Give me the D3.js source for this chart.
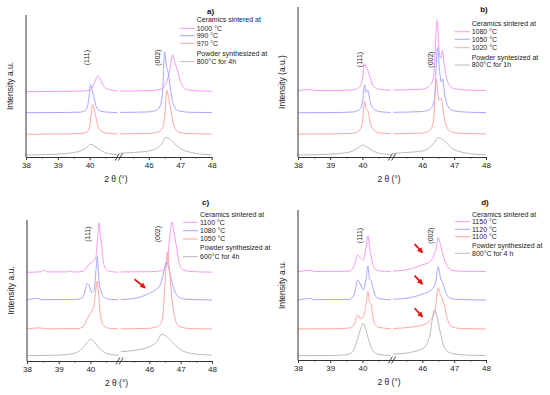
<!DOCTYPE html>
<html>
<head>
<meta charset="utf-8">
<script src="https://cdn.jsdelivr.net/npm/d3@7"></script>
<style>
	body { margin: 0; background: #fff; }
	svg { font-family: 'Liberation Sans', Arial, sans-serif; }
</style>
</head>
<body>
<svg id="chart" width="550" height="395"></svg>
<script>
// broken x axis: two segments
var X_LEFT = [38, 40.92];
var X_RIGHT = [45.05, 48];
var TICKS_LEFT = [38, 39, 40];
var TICKS_RIGHT = [46, 47, 48];
var MINOR_LEFT = [38.5, 39.5, 40.5];
var MINOR_RIGHT = [45.5, 46.5, 47.5];
var COLORS = ['#f290f2', '#9c9cff', '#ff9c9c', '#b2b2b2'];
var HKL_LABELS = ['(111)', '(002)'];
var HKL_X = [39.9, 46.27];

// a) [2theta, intensity]
var A_1000 = [[38,46],[39,46.2],[39.8,46.4],[40.0,47.2],[40.12,50.5],[40.2,55],[40.26,57],[40.33,55],[40.43,50.5],[40.6,47.5],[40.88,46.5],
	[45.09,46.4],[46,46.7],[46.35,47.5],[46.5,50],[46.6,55],[46.68,63],[46.76,72],[46.82,67],[46.9,62],[46.97,56],[47.07,50],[47.25,47.2],[47.6,46.5],[48,46.3]];
var A_990 = [[38,31.2],[39,31.3],[39.7,31.6],[39.88,33],[39.97,40],[40.03,51],[40.08,47],[40.13,43],[40.2,36],[40.32,32.5],[40.6,31.5],[40.88,31.3],
	[45.09,31.4],[46,31.8],[46.25,33],[46.38,37],[46.45,50],[46.5,74],[46.56,64],[46.63,58],[46.7,46],[46.8,36],[46.95,32.5],[47.3,31.5],[48,31.3]];
var A_970 = [[38,16],[39,16.2],[39.7,16.5],[39.9,17.5],[40.0,21],[40.05,30],[40.09,37],[40.14,34],[40.2,28],[40.27,21],[40.4,17.8],[40.6,16.6],[40.88,16.3],
	[45.09,16.3],[46,16.6],[46.3,17.5],[46.45,21],[46.52,32],[46.57,47],[46.63,42],[46.72,30],[46.82,21],[46.95,17.5],[47.2,16.5],[48,16.2]];
var A_POWDER = [[38,1.4],[38.5,1.6],[39,2],[39.4,2.8],[39.7,4.2],[39.9,6.5],[40.03,8.9],[40.2,7],[40.4,4],[40.6,2.4],[40.88,1.8],
	[45.09,2.6],[45.5,3.2],[46,4.2],[46.25,6],[46.42,9.5],[46.53,13.8],[46.65,13],[46.8,10],[46.97,6.5],[47.2,4],[47.5,2.5],[47.8,1.8],[48,1.5]];

// b)
var B_1080 = [[38,44.2],[38.3,44.9],[38.6,44.4],[39,44.3],[39.7,44.7],[39.9,46.5],[40.0,52],[40.07,62.4],[40.12,60],[40.17,58],[40.25,52],[40.35,47],[40.55,45],[40.88,44.5],
	[45.09,44.6],[46,45.2],[46.2,47],[46.35,53],[46.47,91],[46.53,70],[46.58,66],[46.63,71],[46.7,60],[46.8,50],[46.95,46],[47.3,44.7],[48,44.4]];
var B_1050 = [[38,29.5],[39,29.6],[39.7,30],[39.9,31.5],[40.0,36],[40.07,48],[40.12,43],[40.17,44.5],[40.23,38],[40.35,32],[40.55,30.2],[40.88,29.7],
	[45.09,29.8],[46,30.3],[46.25,32],[46.38,38],[46.48,73],[46.55,56],[46.6,50],[46.64,52],[46.7,42],[46.8,34],[46.95,31],[47.3,30],[48,29.6]];
var B_1020 = [[38,15.3],[39,15.4],[39.7,15.8],[39.9,17.5],[40.0,23],[40.07,37],[40.12,32],[40.17,31],[40.23,24],[40.35,18],[40.55,16],[40.88,15.5],
	[45.09,15.5],[46,16],[46.25,18],[46.35,24],[46.44,52],[46.52,38],[46.6,39],[46.66,30],[46.75,21],[46.9,17],[47.2,15.8],[48,15.4]];
var B_POWDER = [[38,1.3],[38.5,1.5],[39,1.9],[39.4,2.6],[39.7,4],[39.88,6.2],[40.0,8],[40.15,6.5],[40.35,3.8],[40.6,2.2],[40.88,1.7],
	[45.09,2.4],[45.5,3],[46,4],[46.2,5.8],[46.38,9.5],[46.5,12.9],[46.62,12],[46.78,9],[46.95,5.5],[47.2,3.4],[47.5,2.2],[48,1.5]];

// c)
var C_1100 = [[38,62.9],[38.45,63.3],[38.55,64.5],[38.65,63.2],[39.25,63.2],[39.35,64],[39.45,63.1],[39.75,63.5],[39.88,66],[39.97,69],[40.08,70.5],[40.17,73],[40.24,90],[40.28,98],[40.32,88],[40.36,82],[40.4,72],[40.48,65.5],[40.6,63.5],[40.88,63],
	[45.09,63.2],[46,63.3],[46.4,64],[46.52,67],[46.6,75],[46.66,90],[46.72,98.5],[46.78,92],[46.86,82],[46.95,70],[47.05,65],[47.3,63.5],[48,63]];
var C_1080 = [[38,43.3],[38.35,44.5],[38.45,43.5],[39.5,43.6],[39.75,45],[39.85,51],[39.9,55],[39.97,53],[40.05,48.5],[40.12,50],[40.18,65],[40.22,74],[40.27,58],[40.33,50],[40.45,45],[40.6,43.8],[40.88,43.4],
	[45.09,43.6],[45.5,44.3],[45.8,46],[46.0,48],[46.2,50.5],[46.35,54],[46.45,62],[46.55,70.5],[46.62,66],[46.7,58],[46.8,50],[46.9,46],[47.1,44],[47.5,43.5],[48,43.3]];
var C_1050 = [[38,22.7],[38.4,23.5],[38.6,22.8],[39.6,23],[39.78,24.5],[39.9,30],[40.0,33.8],[40.1,38],[40.17,50],[40.22,56.7],[40.27,45],[40.32,32],[40.42,25],[40.6,23.2],[40.88,22.8],
	[45.09,22.8],[46,23.2],[46.3,25],[46.42,30],[46.5,55],[46.58,77.5],[46.64,65],[46.72,45],[46.82,30],[46.95,24.5],[47.3,23],[48,22.7]];
var C_POWDER = [[38,3.8],[39,4.2],[39.5,5.5],[39.75,9],[39.9,13],[40.0,15.4],[40.1,14],[40.25,10],[40.45,6],[40.7,4.5],[40.88,4.2],
	[45.09,6.6],[45.5,7.5],[46.0,10],[46.25,14],[46.4,18.9],[46.55,17.5],[46.75,13],[47.0,8],[47.3,5.5],[47.7,4.5],[48,4.2]];

// d)
var D_1150 = [[38,58.9],[38.4,59.8],[38.5,59],[39.6,59.2],[39.75,63],[39.85,70],[39.95,68],[40.03,66.7],[40.12,76],[40.17,82.7],[40.23,74],[40.3,66],[40.4,60.5],[40.6,59.2],[40.88,59],
	[45.09,59.3],[45.6,60.5],[46.0,63.5],[46.2,65],[46.35,69],[46.43,74],[46.5,81.6],[46.57,77],[46.65,70],[46.75,64],[46.9,60],[47.2,59.2],[48,59]];
var D_1120 = [[38,40],[38.4,41],[38.5,40.2],[39.6,40.4],[39.75,44],[39.85,53.3],[39.95,50],[40.03,46.7],[40.12,55],[40.17,62.7],[40.22,54],[40.28,52.5],[40.33,48],[40.45,41.5],[40.7,40.4],[40.88,40.2],
	[45.09,40.5],[45.6,41.5],[46.0,44],[46.3,47],[46.42,52],[46.5,62.2],[46.58,54],[46.63,52],[46.72,46],[46.85,41.5],[47.1,40.4],[48,40]];
var D_1100 = [[38,20.7],[39,20.8],[39.6,21.3],[39.75,24],[39.85,30],[39.95,27.5],[40.05,30],[40.12,38],[40.17,45.6],[40.22,39],[40.27,37],[40.35,26],[40.5,21.8],[40.88,20.9],
	[45.09,21],[45.6,21.8],[46.0,23.3],[46.25,26.5],[46.4,33],[46.5,47.8],[46.58,43],[46.67,38],[46.78,28],[46.9,22.5],[47.2,21],[48,20.7]];
var D_POWDER = [[38,2.9],[39,3],[39.5,3.5],[39.7,5.5],[39.82,12],[39.92,19],[40.02,24.4],[40.1,21],[40.2,13],[40.32,6.5],[40.5,3.8],[40.88,3],
	[45.09,3.8],[45.6,5],[46.0,7.5],[46.15,11],[46.25,18],[46.32,28],[46.37,33.3],[46.45,30],[46.55,20],[46.65,11],[46.78,6],[47.0,4],[47.5,3.2],[48,3]];

var LEGEND_A = ['1000 °C', '990 °C', '970 °C'];
var LEGEND_B = ['1080 °C', '1050 °C', '1020 °C'];
var LEGEND_C = ['1100 °C', '1080 °C', '1050 °C'];
var LEGEND_D = ['1150 °C', '1120 °C', '1100 °C'];
var POWDER_A = ['Powder synthesized at', '800°C for 4h'];
var POWDER_B = ['Powder syntesized at', '800°C for 1h'];
var POWDER_C = ['Powder synthesized at', '600°C for 4h'];
var POWDER_D = ['Powder synthesized at', '800°C for 4 h'];

// arrows [x0, y0, x1, y1] in data units
var ARROWS_C = [[45.53, 58, 45.86, 52]];
var ARROWS_D = [[45.76, 77.3, 46.0, 71.8], [45.76, 56.2, 46.0, 50.7], [45.76, 34.5, 46.0, 28.9]];

CHART = {
	panels: [
		{ tag: 'a)', left: 26, right: 211.7, top: 15, bottom: 157, series: [A_1000, A_990, A_970, A_POWDER],
			legend: LEGEND_A, powder: POWDER_A, ylabel: 'Intensity a.u.', hklY: 70, arrows: [],
			legX: 196.7, legY: [20, 28.3, 35.7, 43.3, 53.3, 61.7], tagX: 210.5, tagY: 11 },
		{ tag: 'b)', left: 298, right: 486, top: 7, bottom: 157, series: [B_1080, B_1050, B_1020, B_POWDER],
			legend: LEGEND_B, powder: POWDER_B, ylabel: 'Intensity (a.u.)', hklY: 65, arrows: [],
			legX: 471.7, legY: [23.3, 31.7, 39.3, 47.7, 57.3, 65], tagX: 484, tagY: 9.3 },
		{ tag: 'c)', left: 27, right: 212, top: 220, bottom: 361, series: [C_1100, C_1080, C_1050, C_POWDER],
			legend: LEGEND_C, powder: POWDER_C, ylabel: 'Intensity a.u.', hklY: 90, arrows: ARROWS_C,
			legX: 200, legY: [214.3, 222.3, 230.7, 239, 247.7, 256.7], tagX: 205.5, tagY: 202.3 },
		{ tag: 'd)', left: 298, right: 486, top: 210, bottom: 360, series: [D_1150, D_1120, D_1100, D_POWDER],
			legend: LEGEND_D, powder: POWDER_D, ylabel: 'Intensity a.u.', hklY: 83, arrows: ARROWS_D,
			legX: 472, legY: [214.3, 221.7, 229.3, 236.7, 245.7, 253.3], tagX: 485, tagY: 201.7 }
	],

	init: function() {
		var svg = d3.select('#chart');
		var defs = svg.append('defs');
		defs.append('marker')
			.attr('id', 'head')
			.attr('viewBox', '0 0 10 10')
			.attr('refX', 8)
			.attr('refY', 5)
			.attr('markerWidth', 3.2)
			.attr('markerHeight', 3.2)
			.attr('orient', 'auto')
			.append('path')
			.attr('d', 'M0,0 L10,5 L0,10 z')
			.attr('fill', '#ee1111');

		CHART.panels.forEach(function(p) {
			CHART.drawPanel(svg, p);
		});
	},

	drawPanel: function(svg, p) {
		var mid = (p.left + p.right) / 2;
		var xl = d3.scaleLinear().domain(X_LEFT).range([p.left, mid]);
		var xr = d3.scaleLinear().domain(X_RIGHT).range([mid, p.right]);
		var y = d3.scaleLinear().domain([0, 100]).range([p.bottom, p.top]);
		var x = function(v) {
			return v < 43 ? xl(v) : xr(v);
		};

		var g = svg.append('g');

		// curves, split at the axis break
		var line = d3.line()
			.x(function(d) { return x(d[0]); })
			.y(function(d) { return y(d[1]); })
			.curve(d3.curveMonotoneX);

		p.series.forEach(function(s, i) {
			var parts = [
				s.filter(function(d) { return d[0] < 43; }),
				s.filter(function(d) { return d[0] > 43; })
			];
			g.selectAll(null)
				.data(parts)
				.enter()
				.append('path')
				.attr('d', line)
				.attr('fill', 'none')
				.attr('stroke', COLORS[i])
				.attr('stroke-width', 0.9);
		});

		// axes
		var axisFont = function(sel) {
			sel.selectAll('text')
				.attr('font-size', '8px')
				.attr('font-family', "'Liberation Sans', Arial, sans-serif")
				.attr('fill', '#222');
			sel.selectAll('path, line').attr('stroke', '#333');
		};
		[[xl, TICKS_LEFT, MINOR_LEFT], [xr, TICKS_RIGHT, MINOR_RIGHT]].forEach(function(a) {
			g.append('g')
				.attr('transform', 'translate(0,' + p.bottom + ')')
				.call(d3.axisBottom(a[0]).tickValues(a[1]).tickFormat(d3.format('d')).tickSize(3).tickSizeOuter(0).tickPadding(2))
				.call(axisFont);
			g.append('g')
				.attr('transform', 'translate(0,' + p.bottom + ')')
				.call(d3.axisBottom(a[0]).tickValues(a[2]).tickSize(1.5).tickSizeOuter(0).tickFormat(''))
				.call(axisFont);
		});

		g.append('line')
			.attr('x1', p.left).attr('x2', p.left)
			.attr('y1', p.top).attr('y2', p.bottom)
			.attr('stroke', '#333');

		// break marks
		g.selectAll(null)
			.data([-1.6, 1.6])
			.enter()
			.append('line')
			.attr('x1', function(d) { return mid + d - 2; })
			.attr('x2', function(d) { return mid + d + 2; })
			.attr('y1', p.bottom + 3.5)
			.attr('y2', p.bottom - 3.5)
			.attr('stroke', '#333')
			.attr('stroke-width', 0.9);

		// axis titles
		g.append('text')
			.attr('x', mid - 3)
			.attr('y', p.bottom + 25)
			.attr('text-anchor', 'middle')
			.attr('font-size', '8.5px')
			.attr('fill', '#222')
			.text('2 θ (°)');

		g.append('text')
			.attr('transform', 'translate(' + (p.left - 16) + ',' + ((p.top + p.bottom) / 2) + ') rotate(-90)')
			.attr('text-anchor', 'middle')
			.attr('dy', '0.35em')
			.attr('font-size', '8.5px')
			.attr('fill', '#222')
			.text(p.ylabel);

		// hkl labels
		g.selectAll(null)
			.data(HKL_LABELS)
			.enter()
			.append('text')
			.attr('transform', function(d, i) {
				return 'translate(' + x(HKL_X[i]) + ',' + y(p.hklY) + ') rotate(-90)';
			})
			.attr('text-anchor', 'middle')
			.attr('dy', '0.35em')
			.attr('font-size', '7px')
			.attr('fill', '#222')
			.text(function(d) { return d; });

		// arrows
		g.selectAll(null)
			.data(p.arrows)
			.enter()
			.append('line')
			.attr('x1', function(d) { return x(d[0]); })
			.attr('y1', function(d) { return y(d[1]); })
			.attr('x2', function(d) { return x(d[2]); })
			.attr('y2', function(d) { return y(d[3]); })
			.attr('stroke', '#ee1111')
			.attr('stroke-width', 1.8)
			.attr('marker-end', 'url(#head)');

		// legend
		g.append('text')
			.attr('x', p.tagX)
			.attr('y', p.tagY)
			.attr('dy', '0.35em')
			.attr('text-anchor', 'middle')
			.attr('font-size', '8px')
			.attr('font-weight', 'bold')
			.attr('fill', '#111')
			.text(p.tag);

		var rows = ['Ceramics sintered at'].concat(p.legend, p.powder);
		g.selectAll(null)
			.data(rows)
			.enter()
			.append('text')
			.attr('x', p.legX)
			.attr('y', function(d, i) { return p.legY[i]; })
			.attr('dy', '0.35em')
			.attr('font-size', '7px')
			.attr('fill', '#222')
			.text(function(d) { return d; });

		var swatchRows = [1, 2, 3, 5];
		g.selectAll(null)
			.data(swatchRows)
			.enter()
			.append('line')
			.attr('x1', p.legX - 17)
			.attr('x2', p.legX - 2)
			.attr('y1', function(d) { return p.legY[d]; })
			.attr('y2', function(d) { return p.legY[d]; })
			.attr('stroke', function(d, i) { return COLORS[i]; })
			.attr('stroke-width', 0.9);
	}
};

CHART.init();
</script>
</body>
</html>
